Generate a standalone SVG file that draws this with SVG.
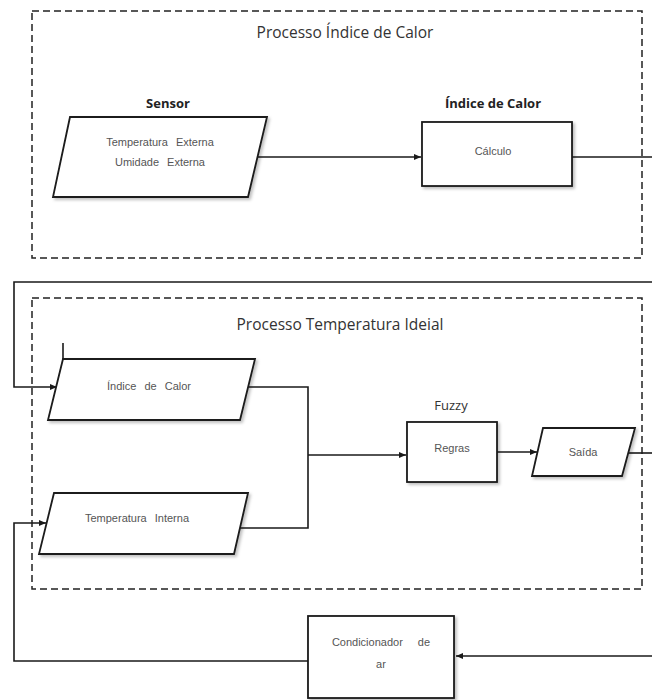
<svg xmlns="http://www.w3.org/2000/svg" width="652" height="700" viewBox="0 0 652 700">
<style>
.frame{fill:none;stroke:#222;stroke-width:1.5;stroke-dasharray:7 4}
.shape{fill:#fff;stroke:#1a1a1a;stroke-width:1.8;filter:url(#sh)}
.conn{fill:none;stroke:#1a1a1a;stroke-width:1.6}
.title{font-family:"Open Sans","Liberation Sans",sans-serif;font-size:15.5px;fill:#333;text-anchor:middle}
.lbl{font-family:"Open Sans","Liberation Sans",sans-serif;font-size:13px;font-weight:bold;fill:#222;text-anchor:middle}
.lbl2{font-family:"Open Sans","Liberation Sans",sans-serif;font-size:13px;fill:#333;text-anchor:middle}
.txt{font-family:"Liberation Sans",sans-serif;font-size:11px;fill:#555;text-anchor:middle;word-spacing:5px}
</style>
<defs>
<filter id="sh" x="-10%" y="-10%" width="130%" height="130%">
<feDropShadow dx="2" dy="2" stdDeviation="1.5" flood-color="#000" flood-opacity="0.25"/>
</filter>
<marker id="arr" markerWidth="8" markerHeight="8" refX="7" refY="4" orient="auto" markerUnits="userSpaceOnUse">
<path d="M0,1 L7,4 L0,7 Z" fill="#1a1a1a"/>
</marker>
</defs>
<rect width="652" height="700" fill="#fff"/>

<g id="frame-indice">
<rect class="frame" x="32" y="11" width="610" height="247"/>
<text class="title" x="345" y="38">Processo Índice de Calor</text>
</g>
<g id="frame-temperatura">
<rect class="frame" x="32" y="298" width="610" height="291"/>
<text class="title" x="340" y="330">Processo Temperatura Ideial</text>
</g>

<g id="connectors">
<line class="conn" x1="258" y1="157" x2="421" y2="157" marker-end="url(#arr)"/>
<polyline class="conn" points="572,157 652,157"/>
<polyline class="conn" points="652,282 14,282 14,387 57,387" marker-end="url(#arr)"/>
<polyline class="conn" points="249,387 308,387 308,528 240,528"/>
<line class="conn" x1="308" y1="455" x2="406" y2="455" marker-end="url(#arr)"/>
<line class="conn" x1="497" y1="452" x2="537" y2="452" marker-end="url(#arr)"/>
<line class="conn" x1="627" y1="453" x2="652" y2="453"/>
<line class="conn" x1="652" y1="656" x2="456" y2="656" marker-end="url(#arr)"/>
<polyline class="conn" points="308,661 14,661 14,523 46,523" marker-end="url(#arr)"/>
<line class="conn" x1="63" y1="343" x2="63" y2="359"/>
</g>

<g id="sensor">
<text class="lbl" x="168" y="108">Sensor</text>
<polygon class="shape" points="70,117 267,117 248,197 53,197"/>
<text class="txt" x="160" y="146">Temperatura Externa</text>
<text class="txt" x="160" y="166">Umidade Externa</text>
</g>

<g id="calculo">
<text class="lbl" x="493" y="108">Índice de Calor</text>
<rect class="shape" x="422" y="122" width="150" height="64"/>
<text class="txt" x="493" y="155">Cálculo</text>
</g>

<g id="indice-calor">
<polygon class="shape" points="63,359 255,359 240,420 48,420"/>
<text class="txt" x="149" y="390">Índice de Calor</text>
</g>

<g id="temperatura-interna">
<polygon class="shape" points="54,493 248,493 234,554 39,554"/>
<text class="txt" x="137" y="522">Temperatura Interna</text>
</g>

<g id="regras">
<text class="lbl2" x="451" y="410">Fuzzy</text>
<rect class="shape" x="407" y="422" width="90" height="60"/>
<text class="txt" x="452" y="452">Regras</text>
</g>

<g id="saida">
<polygon class="shape" points="543,428 635,428 622,476 532,476"/>
<text class="txt" x="583" y="456">Saída</text>
</g>

<g id="condicionador">
<rect class="shape" x="308" y="616" width="146" height="82"/>
<text class="txt" x="381" y="646" style="word-spacing:12px">Condicionador de</text>
<text class="txt" x="381" y="668">ar</text>
</g>
</svg>
